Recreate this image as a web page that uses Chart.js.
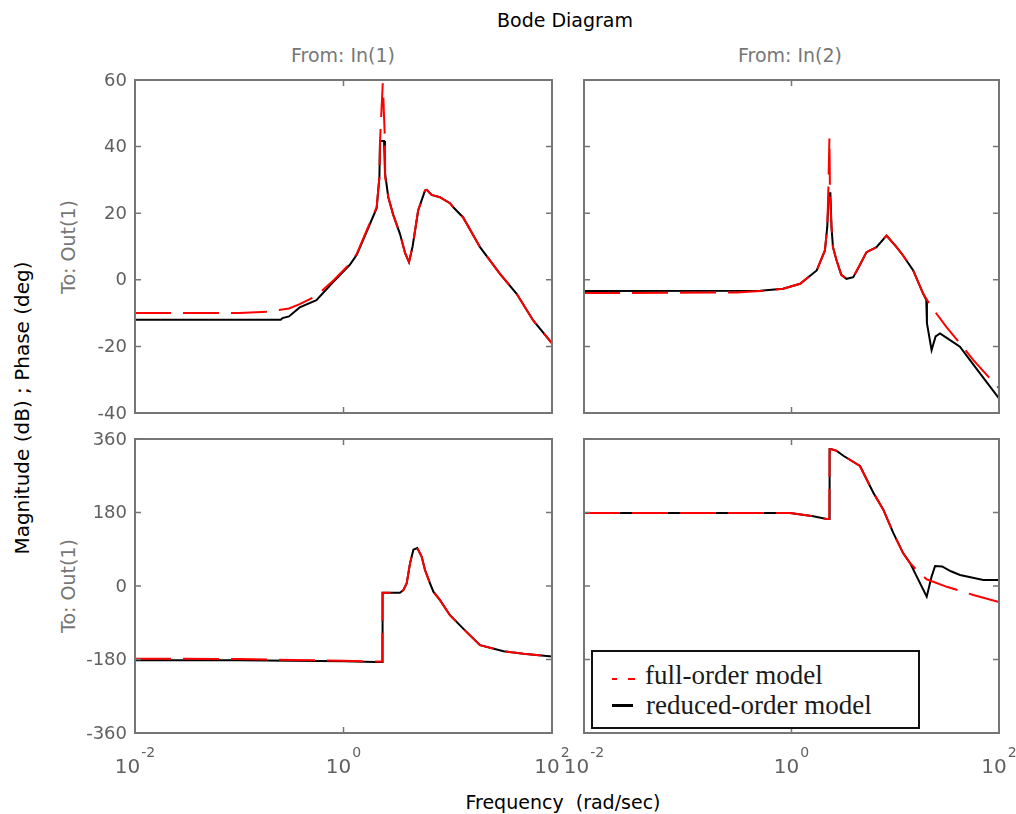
<!DOCTYPE html>
<html><head><meta charset="utf-8">
<script src="https://cdn.jsdelivr.net/npm/chart.js@4.4.0/dist/chart.umd.min.js"></script>
<style>
body{margin:0;background:#fff;width:1016px;height:814px;overflow:hidden;position:relative;font-family:"DejaVu Sans",sans-serif;}
.t{position:absolute;white-space:pre;line-height:1;transform:translate(-50%,-50%);}
.r{transform:translate(-50%,-50%) rotate(-90deg);}
canvas{position:absolute;}
#legend{position:absolute;left:591px;top:650px;width:329px;height:79px;box-sizing:border-box;border:2.5px solid #111;background:#fff;}
.lt{position:absolute;font-family:"Liberation Serif","Times New Roman",serif;font-size:27px;line-height:27px;color:#1a1a1a;white-space:pre;}
.ls{position:absolute;height:0;}
</style></head><body>

<div class="t" style="left:565px;top:20px;font-size:19px;color:#000;">Bode Diagram</div>
<div class="t" style="left:343px;top:55px;font-size:19px;color:#777;">From: In(1)</div>
<div class="t" style="left:790px;top:55px;font-size:19px;color:#777;">From: In(2)</div>
<div class="t r" style="left:22px;top:408px;font-size:20px;color:#000;">Magnitude (dB) ; Phase (deg)</div>
<div class="t r" style="left:68px;top:247px;font-size:19px;color:#777;">To: Out(1)</div>
<div class="t r" style="left:68px;top:586px;font-size:19px;color:#777;">To: Out(1)</div>
<div class="t" style="left:563px;top:802px;font-size:19px;color:#000;">Frequency  (rad/sec)</div>

<script>
// ---- axis ticks ----
const xTickValues = [0.01, 1, 100];
const xTickExponents = ['-2', '0', '2'];
const magTicks = [-40, -20, 0, 20, 40, 60];
const phaseTicks = [-360, -180, 0, 180, 360];

// ---- From In(1) to Out(1): magnitude (dB) ----
const tlFullW  = [0.01, 0.1, 0.2, 0.3, 0.38, 0.55, 0.8, 1.15, 1.34, 1.67, 2.08, 2.21, 2.24, 2.38, 2.5, 2.51, 2.69, 3.0, 3.48, 3.9, 4.25, 4.6, 5.2, 6.05, 6.3, 7.0, 8.4, 10.5, 11.3, 14, 20.4, 31.7, 45.8, 66, 100];
const tlFullDb = [-10, -10, -9.5, -8.6, -7.3, -4.8, -0.2, 4.8, 7.8, 14.8, 21.8, 30.8, 41.7, 59, 41.7, 30.8, 24.8, 19.5, 13.8, 8, 5.3, 10, 20.8, 26.8, 27, 25.5, 24.8, 23, 21.8, 18.8, 9.8, 1.8, -4.2, -12.2, -19.1];
const tlRedW   = [0.01, 0.25, 0.26, 0.3, 0.38, 0.55, 0.8, 1.15, 1.34, 1.67, 2.08, 2.21, 2.24, 2.45, 2.5, 2.69, 3.0, 3.48, 3.9, 4.25, 4.6, 5.2, 6.05, 6.3, 7.0, 8.4, 10.5, 11.3, 14, 20.4, 31.7, 45.8, 66, 100];
const tlRedDb  = [-12, -12, -11.5, -11, -8.3, -6.1, -0.6, 4.5, 7.5, 14.5, 21.5, 30.8, 41.7, 41.7, 32, 24.8, 19.5, 13.8, 8, 5.3, 10, 20.8, 26.8, 27, 25.5, 24.8, 23, 21.8, 18.8, 9.8, 1.8, -4.2, -12.2, -19.1];

// ---- From In(2) to Out(1): magnitude (dB) ----
const trFullW  = [0.01, 0.3, 0.5, 0.83, 1.21, 1.75, 2.1, 2.21, 2.26, 2.32, 2.35, 2.43, 2.51, 2.72, 3.02, 3.39, 3.94, 4.57, 5.28, 6.6, 8.24, 10.3, 11.9, 14.9, 18.6, 22.4, 31.2, 42.1, 56.6, 100];
const trFullDb = [-4, -3.8, -3.4, -2.7, -1.2, 2.8, 8.8, 15.8, 25.8, 42.7, 25.8, 15.8, 9.8, 5.8, 1.5, 0.3, 0.8, 4.5, 8.3, 9.8, 13.3, 9.8, 7.3, 2.8, -4.2, -8.2, -14.2, -19.1, -24.1, -32.6];
const trRedW   = [0.01, 0.5, 0.83, 1.21, 1.75, 2.1, 2.21, 2.29, 2.37, 2.43, 2.51, 2.72, 3.02, 3.39, 3.94, 4.57, 5.28, 6.6, 8.24, 10.3, 11.9, 14.9, 18.6, 19.9, 20.2, 22.4, 24.5, 27, 31.6, 42, 65.6, 100];
const trRedDb  = [-3.4, -3.3, -2.7, -1.2, 2.8, 8.8, 15.8, 26, 26, 15.8, 9.8, 5.8, 1.5, 0.3, 0.8, 4.5, 8.3, 9.8, 13.3, 9.8, 7.3, 2.8, -4.2, -6, -13, -21.1, -17, -16.1, -17.5, -20.1, -28.1, -35.6];

// ---- From In(1) to Out(1): phase (deg) ----
const blFullW   = [0.01, 0.1, 0.32, 1, 2, 2.35, 2.37, 3.48, 3.75, 4.04, 4.35, 4.68, 5.1, 5.62, 6.05, 6.76, 7.28, 8.43, 10.5, 15.2, 20.4, 34.3, 53.3, 100];
const blFullDeg = [-178, -179, -181, -183, -185, -185, -16.5, -16.5, -10, 6.6, 56, 89, 93, 72, 39, 6.6, -14, -34.5, -71.5, -113, -145, -160, -166, -172.6];
const blRedW    = [0.01, 0.1, 0.32, 1, 2, 2.35, 2.37, 3.48, 3.75, 4.04, 4.35, 4.68, 5.1, 5.62, 6.05, 6.76, 7.28, 8.43, 10.5, 15.2, 20.4, 34.3, 53.3, 100];
const blRedDeg  = [-182, -182, -183, -184, -186, -186, -16.5, -16.5, -10, 6.6, 56, 89, 93, 72, 39, 6.6, -14, -34.5, -71.5, -113, -145, -160, -166, -172.6];

// ---- From In(2) to Out(1): phase (deg) ----
const brFullW   = [0.01, 0.97, 1.62, 2.18, 2.31, 2.33, 2.44, 2.73, 3.16, 4.57, 6.15, 7.67, 9.57, 11.9, 13.9, 17.3, 20.1, 31.4, 56.6, 100];
const brFullDeg = [179, 179, 171, 164, 164, 335, 335, 331, 319, 294, 228.5, 187, 130, 80.6, 56, 31, 16.5, -2, -22, -39];
const brRedW    = [0.01, 0.97, 1.62, 2.18, 2.31, 2.33, 2.44, 2.73, 3.16, 4.57, 6.15, 7.67, 9.57, 11.9, 13.9, 20.1, 22.4, 24.2, 28.3, 34.4, 42.1, 70.6, 100];
const brRedDeg  = [179, 179, 171, 164, 164, 335, 335, 331, 319, 294, 228.5, 187, 130, 80.6, 56, -26, 23, 49, 48, 36, 27, 15, 15];

const pts = (w, v) => w.map((x, i) => ({x: x, y: v[i]}));

const boxPlugin = {
  id: 'box',
  afterDatasetsDraw(chart) {
    const {ctx, chartArea: a, scales: {x, y}} = chart;
    const o = chart.options.plugins.box || {};
    ctx.save();
    ctx.strokeStyle = '#767676';
    ctx.lineWidth = 2;
    ctx.strokeRect(a.left, a.top, a.right - a.left, a.bottom - a.top);
    ctx.lineWidth = 1.5;
    ctx.beginPath();
    y.ticks.forEach(t => {
      const py = y.getPixelForValue(t.value);
      ctx.moveTo(a.left, py); ctx.lineTo(a.left + 6, py);
      ctx.moveTo(a.right, py); ctx.lineTo(a.right - 6, py);
    });
    x.ticks.forEach(t => {
      const px = x.getPixelForValue(t.value);
      ctx.moveTo(px, a.bottom); ctx.lineTo(px, a.bottom - 6);
      ctx.moveTo(px, a.top); ctx.lineTo(px, a.top + 6);
    });
    ctx.stroke();
    ctx.fillStyle = '#606060';
    if (o.yLabels) {
      ctx.font = '18px "DejaVu Sans"';
      ctx.textAlign = 'right';
      ctx.textBaseline = 'middle';
      y.ticks.forEach(t => {
        ctx.fillText(String(t.value), a.left - 8, y.getPixelForValue(t.value) + 1);
      });
    }
    if (o.xLabels) {
      ctx.textBaseline = 'alphabetic';
      ctx.textAlign = 'left';
      x.ticks.forEach(t => {
        const px = x.getPixelForValue(t.value);
        const exp = xTickExponents[xTickValues.indexOf(t.value)];
        ctx.font = '20px "DejaVu Sans"';
        const w10 = ctx.measureText('10').width;
        ctx.font = '14px "DejaVu Sans"';
        const we = ctx.measureText(exp).width;
        const x0 = px - (w10 + 1 + we) / 2;
        ctx.font = '20px "DejaVu Sans"';
        ctx.fillText('10', x0, a.bottom + 40);
        ctx.font = '14px "DejaVu Sans"';
        ctx.fillText(exp, x0 + w10 + 1, a.bottom + 24);
      });
    }
    ctx.restore();
  }
};

function panel(box, cfg) {
  const ML = cfg.showY ? 70 : 30, MT = 14, MR = 24, MB = cfg.showX ? 52 : 14;
  const canvas = document.createElement('canvas');
  canvas.width = box.w + ML + MR;
  canvas.height = box.h + MT + MB;
  canvas.style.left = (box.x - ML) + 'px';
  canvas.style.top = (box.y - MT) + 'px';
  document.body.appendChild(canvas);
  new Chart(canvas, {
    type: 'line',
    data: {
      datasets: [
        {label: 'full-order model', data: cfg.full, borderColor: '#ff0000', borderWidth: 2, borderDash: [36, 12], pointRadius: 0, tension: 0, fill: false, order: 0},
        {label: 'reduced-order model', data: cfg.red, borderColor: '#000000', borderWidth: 2, pointRadius: 0, tension: 0, fill: false, order: 1}
      ]
    },
    options: {
      responsive: false, animation: false, devicePixelRatio: 1,
      layout: {padding: {left: 0, top: MT, right: MR, bottom: 0}},
      plugins: {legend: {display: false}, tooltip: {enabled: false}, box: {xLabels: cfg.showX, yLabels: cfg.showY}},
      scales: {
        x: {
          type: 'logarithmic', min: 0.01, max: 100,
          afterBuildTicks: s => { s.ticks = xTickValues.map(v => ({value: v})); },
          afterFit: s => { s.height = MB; },
          ticks: {display: false},
          grid: {display: false, drawTicks: false},
          border: {display: false}
        },
        y: {
          type: 'linear', min: cfg.yTicks[0], max: cfg.yTicks[cfg.yTicks.length - 1],
          afterBuildTicks: s => { s.ticks = cfg.yTicks.map(v => ({value: v})); },
          afterFit: s => { s.width = ML; },
          ticks: {display: false},
          grid: {display: false, drawTicks: false},
          border: {display: false}
        }
      }
    },
    plugins: [boxPlugin]
  });
}

panel({x: 135, y: 80, w: 417, h: 333}, {showY: true, showX: false, yTicks: magTicks, full: pts(tlFullW, tlFullDb), red: pts(tlRedW, tlRedDb)});
panel({x: 584, y: 80, w: 415, h: 333}, {showY: false, showX: false, yTicks: magTicks, full: pts(trFullW, trFullDb), red: pts(trRedW, trRedDb)});
panel({x: 135, y: 439, w: 417, h: 294}, {showY: true, showX: true, yTicks: phaseTicks, full: pts(blFullW, blFullDeg), red: pts(blRedW, blRedDeg)});
panel({x: 584, y: 439, w: 415, h: 294}, {showY: false, showX: true, yTicks: phaseTicks, full: pts(brFullW, brFullDeg), red: pts(brRedW, brRedDeg)});
</script>

<div id="legend"></div>
<div class="ls" style="left:612px;top:678px;width:5px;border-top:2px solid #ff0000;"></div>
<div class="ls" style="left:628px;top:678px;width:7px;border-top:2px solid #ff0000;"></div>
<div class="ls" style="left:612px;top:704px;width:21px;border-top:3px solid #000;"></div>
<div class="lt" style="left:645px;top:662px;">full-order model</div>
<div class="lt" style="left:646px;top:692px;">reduced-order model</div>
</body></html>
